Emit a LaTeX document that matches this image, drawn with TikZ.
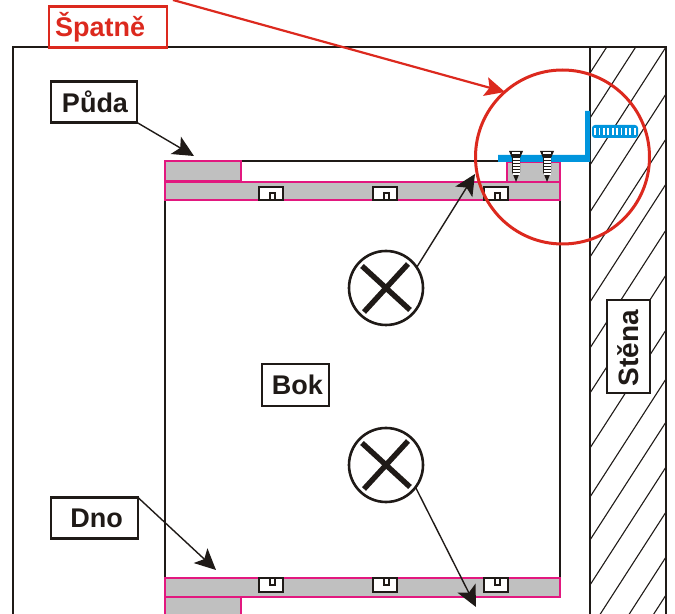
\documentclass[tikz,border=0pt]{standalone}
\usepackage{fontspec}
\setmainfont{Liberation Sans}
\usetikzlibrary{arrows.meta}
\definecolor{inkblack}{HTML}{1F1A17}
\definecolor{shelfpink}{HTML}{E2187F}
\definecolor{shelfgray}{HTML}{C0C0C0}
\definecolor{fixblue}{HTML}{0095DD}
\definecolor{wrongred}{HTML}{DC291E}
\begin{document}
\begin{tikzpicture}[x=.5pt,y=-.5pt]
\useasboundingbox (0,0) rectangle (675,614);
\tikzstyle{every node}=[inner sep=0pt, outer sep=0pt, text=inkblack]
\tikzstyle{label box}=[draw=inkblack, line width=1.4pt, fill=white, font=\bfseries\fontsize{13.5}{16}\selectfont]
\tikzstyle{x mark}=[circle, draw=inkblack, line width=1.3pt, minimum size=37pt]
\tikzstyle{cross bar}=[draw=inkblack, line width=2.7pt]
\tikzstyle{pointer}=[draw=inkblack, line width=.7pt, -{Stealth[length=10.5pt,width=10pt,inset=2.5pt]}]
\tikzstyle{shelf}=[draw=shelfpink, line width=1.25pt, fill=shelfgray]
\tikzstyle{notch}=[draw=inkblack, line width=1.3pt, fill=white]
% wall hatching
\begin{scope}
\clip (590,47) rectangle (666,614);
\foreach \y in {73,118,165,212,257,302,348,393,448,497,540,585,630,675,713}
\draw[inkblack, line width=.55pt] (590,\y) -- ++(76,-118);
\end{scope}
% frame and wall
\draw[inkblack, line width=1.4pt] (13,614) -- (13,47) -- (666,47) -- (666,614);
\draw[inkblack, line width=1.4pt] (590,47) -- (590,614);
% sides
\draw[inkblack, line width=1.3pt] (165,200) -- (165,578);
\draw[inkblack, line width=1.3pt] (560,200) -- (560,578);
\draw[inkblack, line width=1.2pt] (241,161) -- (500,161);
% shelves
\draw[shelf] (165,161) rectangle (241,181);
\draw[shelf] (507,162) rectangle (560,182);
\draw[shelf] (165,182) rectangle (560,200);
\draw[shelf] (165,578) rectangle (560,597);
\draw[shelf] (165,597) rectangle (241,620);
\foreach \x in {259,373,484} {
\draw[notch] (\x,187) rectangle ++(24,13);
\draw[inkblack, line width=1pt] (\x+11,200) -- (\x+11,193) -- (\x+16,193) -- (\x+16,200);
\draw[notch] (\x,578) rectangle ++(24,14);
\draw[inkblack, line width=1pt] (\x+11,578) -- (\x+11,585) -- (\x+16,585) -- (\x+16,578);
}
% angle bracket and plug
\fill[fixblue] (498,155) -- (585,155) -- (585,111) -- (590,111) -- (590,162) -- (498,162) -- cycle;
\fill[fixblue, rounded corners=1.5pt] (592,125) rectangle (638,138);
\foreach \x in {595,599.4,...,636}
\draw[white, line width=.9pt] (\x,128) -- (\x,135);
% screws
\foreach \x in {516,547} {
\fill[inkblack] (\x-7,151) -- (\x+7,151) -- (\x+4,158) -- (\x+4,172) -- (\x,182) -- (\x-4,172) -- (\x-4,158) -- cycle;
\fill[white] (\x-4,152.5) rectangle (\x+4,154);
\foreach \y in {158,161,...,173}
\fill[white] (\x-3.5,\y) rectangle (\x+3.5,\y+1.8);
}
% labels
\draw (108,27) node (spatne) [label box, draw=wrongred, text=wrongred, minimum width=59pt, minimum height=20.5pt, text width=53pt, align=left] {Špatně};
\draw (94,102) node (puda) [label box, minimum width=43pt, minimum height=20.5pt] {\hspace*{1pt}Půda};
\draw (94.5,518) node (dno) [label box, minimum width=43.5pt, minimum height=20.5pt] {\hspace*{2pt}Dno};
\draw (295.5,385) node (bok) [label box, minimum width=33.5pt, minimum height=21pt] {\hspace*{2pt}Bok};
\draw (628.5,346.5) node (stena) [label box, font=\bfseries\fontsize{14}{16}\selectfont, rotate=90, minimum width=46.5pt, minimum height=21.5pt] {\hspace*{-1.5pt}Stěna};
% X marks
\draw (386,288) node (xtop) [x mark] {};
\draw (386,465) node (xbottom) [x mark] {};
\foreach \m in {xtop,xbottom} {
\draw[cross bar] (\m.center) ++(-24,-22) -- ++(48,44);
\draw[cross bar] (\m.center) ++(22,-24) -- ++(-44,48);
}
% pointers
\coordinate (pudatip) at (194,156);
\coordinate (dnotip) at (216,570);
\coordinate (xtoptip) at (475,174);
\coordinate (xbottomtip) at (476,607);
\coordinate (spatnefrom) at (173,0);
\coordinate (spatnetip) at (505,92);
\draw[pointer] (puda.south east) -- (pudatip);
\draw[pointer] (dno.north east) -- (dnotip);
\draw[pointer] (xtop.34) -- (xtoptip);
\draw[pointer] (xbottom.-37) -- (xbottomtip);
\draw[wrongred, line width=1.1pt, -{Stealth[length=10pt,width=9.5pt,inset=2pt]}] (spatnefrom) -- (spatnetip);
% red circle
\draw (562.5,157) node (ring) [circle, draw=wrongred, line width=1.5pt, minimum size=87pt] {};
\end{tikzpicture}
\end{document}
